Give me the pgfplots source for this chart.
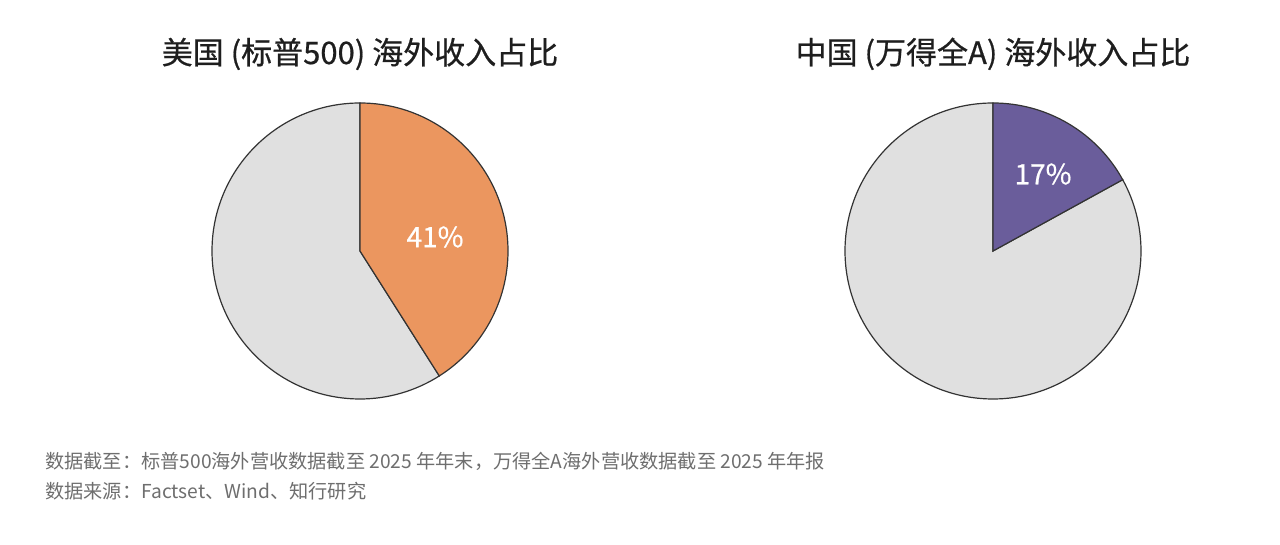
\documentclass[border=0pt]{standalone}
\usepackage{pgfplots}
\pgfplotsset{compat=1.18}
\usepackage{fontspec}
\setmainfont{Noto Sans CJK SC}
\newfontfamily\medfont[FakeBold=0.6]{Noto Sans CJK SC}
\definecolor{usor}{HTML}{EB965F}
\definecolor{cnpu}{HTML}{6A5D9B}
\definecolor{rest}{HTML}{E0E0E0}
\definecolor{edge}{HTML}{333333}
\definecolor{note}{HTML}{6E6E6E}
\definecolor{ttl}{HTML}{1E1E1E}
% shares (%)
\def\usshare{41}
\def\cnshare{17}
\pgfmathsetmacro\usang{90-3.6*\usshare}
\pgfmathsetmacro\cnang{90-3.6*\cnshare}
\begin{document}
\begin{tikzpicture}
\path[use as bounding box] (0,0) rectangle (640pt,272.5pt);
\begin{axis}[at={(180pt,147pt)}, anchor=center, x=74pt, y=74pt,
  xmin=-1, xmax=1, ymin=-1, ymax=1, hide axis, clip=false]
\addplot[fill=rest, draw=edge, line width=0.6pt] coordinates {(0,0) (0,1)}
  arc[start angle=90, end angle=\usang+360, radius=74pt] -- cycle;
\addplot[fill=usor, draw=edge, line width=0.6pt] coordinates {(0,0) (0,1)}
  arc[start angle=90, end angle=\usang, radius=74pt] -- cycle;
\node[text=white, font=\medfont\fontsize{14}{16}\selectfont] at (axis cs:0.507,0.095) {41\%};
\end{axis}
\begin{axis}[at={(496.5pt,147pt)}, anchor=center, x=74pt, y=74pt,
  xmin=-1, xmax=1, ymin=-1, ymax=1, hide axis, clip=false]
\addplot[fill=rest, draw=edge, line width=0.6pt] coordinates {(0,0) (0,1)}
  arc[start angle=90, end angle=\cnang+360, radius=74pt] -- cycle;
\addplot[fill=cnpu, draw=edge, line width=0.6pt] coordinates {(0,0) (0,1)}
  arc[start angle=90, end angle=\cnang, radius=74pt] -- cycle;
\node[text=white, font=\medfont\fontsize{14}{16}\selectfont] at (axis cs:0.338,0.52) {17\%};
\end{axis}
\node[anchor=base, text=ttl, font=\medfont\fontsize{15.5}{18}\selectfont] at (180pt,240.5pt) {美国 (标普500) 海外收入占比};
\node[anchor=base, text=ttl, font=\medfont\fontsize{15.5}{18}\selectfont] at (496.5pt,240.5pt) {中国 (万得全A) 海外收入占比};
\node[anchor=base west, inner sep=0pt, text=note, font=\fontsize{9.6}{11}\selectfont] at (22.5pt,38pt) {数据截至：标普500海外营收数据截至 2025 年年末，万得全A海外营收数据截至 2025 年年报};
\node[anchor=base west, inner sep=0pt, text=note, font=\fontsize{9.6}{11}\selectfont] at (22.5pt,23pt) {数据来源：Factset、Wind、知行研究};
\end{tikzpicture}
\end{document}
